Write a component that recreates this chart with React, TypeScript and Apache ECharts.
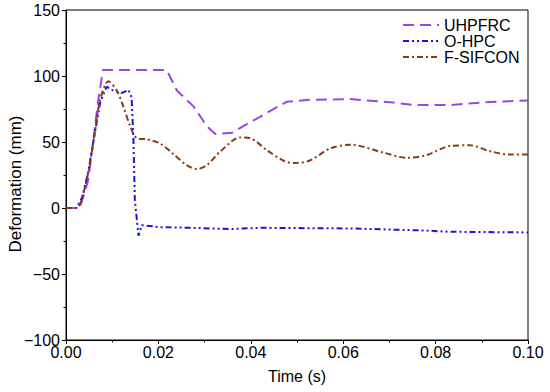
import React, { useEffect, useRef } from "react";
import * as echarts from "echarts";

const seriesNames = ["UHPFRC", "O-HPC", "F-SIFCON"];

const tUHP = [0, 0.003, 0.0048, 0.0059, 0.007, 0.008, 0.0218, 0.024, 0.0276, 0.0305, 0.0323, 0.036, 0.0398, 0.042, 0.0434, 0.0478, 0.0528, 0.0615, 0.0708, 0.0752, 0.0831, 0.0903, 0.1];
const vUHP = [0, 0, 21, 51, 82, 104.5, 104.5, 89, 77, 62, 56, 57, 65, 69, 72, 80.5, 82, 82.5, 80, 78, 78, 80, 81.5];

const tOHPC = [0, 0.0022, 0.0035, 0.0048, 0.006, 0.0074, 0.0088, 0.0102, 0.012, 0.0135, 0.0142, 0.0146, 0.0149, 0.0157, 0.0164, 0.0203, 0.0275, 0.0355, 0.042, 0.0615, 0.0773, 0.083, 0.1];
const vOHPC = [0, 0, 8, 27, 52, 80, 92, 89, 87, 89.5, 84, 51, 6, -21, -13, -14.5, -15, -16, -15, -15.5, -17, -18, -18.5];

const tSIF = [0, 0.0024, 0.0035, 0.0048, 0.006, 0.0074, 0.0092, 0.011, 0.0124, 0.0139, 0.0153, 0.0175, 0.0203, 0.0232, 0.0261, 0.0283, 0.0305, 0.0333, 0.0377, 0.0398, 0.0413, 0.0434, 0.047, 0.0492, 0.0528, 0.0571, 0.0615, 0.0687, 0.0737, 0.078, 0.0831, 0.0874, 0.0918, 0.0961, 0.1];
const vSIF = [0, 0, 8, 26.5, 51.5, 82, 96, 89, 77, 62, 53, 52, 49, 41, 32.5, 29.5, 32.5, 42.5, 53.5, 53, 50, 44, 36, 34, 36, 45, 48, 42, 38, 40, 47, 47.5, 43, 40.5, 40.5];

const xTicks = { min: 0, max: 0.1, interval: 0.02 };
const yTicks = { min: -100, max: 150, interval: 50 };

const zip = (t: number[], v: number[]) => t.map((x, i) => [x, v[i]]);

export default function App() {
  const ref = useRef<HTMLDivElement>(null);
  useEffect(() => {
    if (!ref.current) return;
    const chart = echarts.init(ref.current, null, { renderer: "svg" });
    const font = "Arial, 'Liberation Sans', sans-serif";
    const axisCommon = {
      axisLine: { show: true, onZero: false, lineStyle: { color: "#000", width: 1 } },
      axisTick: { show: true, inside: false, length: 4, lineStyle: { color: "#000" } },
      minorTick: { show: true, splitNumber: 2, length: 2.5, lineStyle: { color: "#000" } },
      splitLine: { show: false },
      axisLabel: { color: "#000", fontSize: 16, fontFamily: font },
    };
    chart.setOption({
      animation: false,
      backgroundColor: "#fff",
      grid: { left: 66, right: 22, top: 10, bottom: 52, show: true, borderColor: "#000", borderWidth: 1 },
      legend: {
        orient: "vertical",
        left: 397,
        top: 12,
        itemWidth: 36,
        itemHeight: 12,
        itemGap: 0,
        data: seriesNames,
        itemStyle: { opacity: 0 },
        textStyle: { color: "#000", fontSize: 16, fontFamily: font },
      },
      xAxis: {
        type: "value",
        ...xTicks,
        ...axisCommon,
        axisLabel: { ...axisCommon.axisLabel, margin: 4, formatter: (v: number) => v.toFixed(2) },
        name: "Time (s)",
        nameLocation: "middle",
        nameGap: 28,
        nameTextStyle: { color: "#000", fontSize: 16, fontFamily: font },
      },
      yAxis: {
        type: "value",
        ...yTicks,
        ...axisCommon,
        axisLabel: { ...axisCommon.axisLabel, margin: 6, formatter: (v: number) => String(v).replace("-", "\u2212") },
      },
      graphic: [
        {
          type: "text",
          x: 15,
          y: 184,
          rotation: Math.PI / 2,
          style: {
            text: "Deformation (mm)",
            fill: "#000",
            fontSize: 17,
            fontFamily: font,
            textAlign: "center",
            textVerticalAlign: "middle",
          },
        },
      ],
      series: [
        {
          name: seriesNames[0],
          type: "line",
          symbol: "none",
          data: zip(tUHP, vUHP),
          lineStyle: { color: "#9A45E8", width: 2, type: [11, 6] },
          itemStyle: { color: "#9A45E8" },
        },
        {
          name: seriesNames[1],
          type: "line",
          symbol: "none",
          data: zip(tOHPC, vOHPC),
          lineStyle: { color: "#1515E0", width: 2, type: [6, 3, 2, 3, 2, 3] },
          itemStyle: { color: "#1515E0" },
        },
        {
          name: seriesNames[2],
          type: "line",
          symbol: "none",
          smooth: 0.3,
          data: zip(tSIF, vSIF),
          lineStyle: { color: "#8B3A12", width: 2, type: [6, 3, 2, 3] },
          itemStyle: { color: "#8B3A12" },
        },
      ],
    });
    return () => chart.dispose();
  }, []);
  return <div ref={ref} style={{ width: 550, height: 392, position: "absolute", left: 0, top: 0 }} />;
}
